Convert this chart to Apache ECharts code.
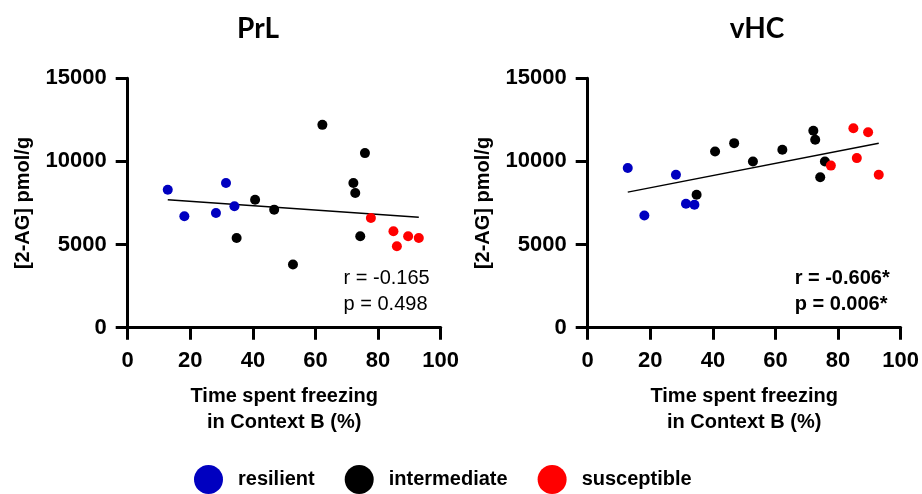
<!DOCTYPE html>
<html>
<head>
<meta charset="utf-8">
<script src="https://cdn.jsdelivr.net/npm/echarts@6/dist/echarts.min.js"></script>
<style>
html,body{margin:0;padding:0;background:#fff;}
#chart{width:922px;height:494px;}
</style>
</head>
<body>
<div id="chart"></div>
<script>
// ---- data ----
var panelTitles = ['PrL', 'vHC'];
var groupNames = ['resilient', 'intermediate', 'susceptible'];
var groupColors = ['#0000c0', '#000000', '#ff0000'];

var resilientX    = [12.8, 18.1, 28.2, 31.4, 34.1];
var intermediateX = [34.8, 40.7, 46.8, 52.8, 62.2, 72.1, 72.7, 75.8, 74.3];
var susceptibleX  = [77.7, 84.9, 86.0, 89.6, 93.0];

var prlResilient    = [8300, 6700, 6900, 8700, 7300];
var prlIntermediate = [5400, 7700, 7100, 3800, 12200, 8700, 8100, 10500, 5500];
var prlSusceptible  = [6600, 5800, 4900, 5500, 5400];

var vhcResilient    = [9600, 6750, 9200, 7450, 7400];
var vhcIntermediate = [8000, 10600, 11100, 10000, 10700, 11850, 11300, 10000, 9050];
var vhcSusceptible  = [9750, 12000, 10200, 11750, 9200];

var statsText = [['r = -0.165', 'p = 0.498'], ['r = -0.606*', 'p = 0.006*']];

var xTicks = [0, 20, 40, 60, 80, 100];
var yTicks = [0, 5000, 10000, 15000];
var xAxisName = 'Time spent freezing\nin Context B (%)';
var yAxisName = '[2-AG] pmol/g';

// ---- helpers ----
function pairs(xs, ys) { return xs.map(function (x, i) { return [x, ys[i]]; }); }
function fitLine(xs, ys) {
  var n = xs.length, mx = 0, my = 0;
  for (var i = 0; i < n; i++) { mx += xs[i]; my += ys[i]; }
  mx /= n; my /= n;
  var sxy = 0, sxx = 0;
  for (var j = 0; j < n; j++) { sxy += (xs[j] - mx) * (ys[j] - my); sxx += (xs[j] - mx) * (xs[j] - mx); }
  var b = sxy / sxx, a = my - b * mx;
  var x0 = Math.min.apply(null, xs), x1 = Math.max.apply(null, xs);
  return [[x0, a + b * x0], [x1, a + b * x1]];
}

var allX = resilientX.concat(intermediateX, susceptibleX);
var panels = [
  [prlResilient, prlIntermediate, prlSusceptible],
  [vhcResilient, vhcIntermediate, vhcSusceptible]
];

var gridLefts = [127.7, 587.7];
var titleCenters = [253, 752];
var gridW = 313, gridTop = 78.3, gridH = 249.4;
var FONT = '"Liberation Sans", Arial, sans-serif';

var grids = [], xAxes = [], yAxes = [], series = [], graphics = [], titles = [];
panels.forEach(function (groups, p) {
  grids.push({ left: gridLefts[p], top: gridTop, width: gridW, height: gridH, containLabel: false });
  var axisCommon = {
    axisLine: { show: true, onZero: false, lineStyle: { color: '#000', width: 3 } },
    axisTick: { show: true, length: 12, lineStyle: { color: '#000', width: 3 } },
    splitLine: { show: false }
  };
  var labelStyle = { color: '#000', fontFamily: FONT, fontWeight: 'bold', fontSize: 22,
    formatter: function (v) { return String(v); } };
  xAxes.push(Object.assign({}, axisCommon, {
    type: 'value', gridIndex: p, min: xTicks[0], max: xTicks[xTicks.length - 1], interval: xTicks[1] - xTicks[0],
    axisLabel: Object.assign({}, labelStyle, { margin: 22, showMaxLabel: true, showMinLabel: true }),
    name: xAxisName, nameLocation: 'middle', nameGap: 56,
    nameTextStyle: { color: '#000', fontFamily: FONT, fontWeight: 'bold', fontSize: 20, lineHeight: 26 }
  }));
  yAxes.push(Object.assign({}, axisCommon, {
    type: 'value', gridIndex: p, min: yTicks[0], max: yTicks[yTicks.length - 1], interval: yTicks[1] - yTicks[0],
    axisLabel: Object.assign({}, labelStyle, { margin: 21 }),
    name: yAxisName, nameLocation: 'middle', nameGap: 94,
    nameTextStyle: { color: '#000', fontFamily: FONT, fontWeight: 'bold', fontSize: 20 }
  }));
  var xsGroups = [resilientX, intermediateX, susceptibleX];
  groups.forEach(function (ys, g) {
    series.push({
      name: groupNames[g], type: 'scatter', xAxisIndex: p, yAxisIndex: p,
      symbol: 'circle', symbolSize: 10,
      itemStyle: { color: groupColors[g], opacity: 1 },
      data: pairs(xsGroups[g], ys), z: 3
    });
  });
  var allY = groups[0].concat(groups[1], groups[2]);
  series.push({
    type: 'line', xAxisIndex: p, yAxisIndex: p, data: fitLine(allX, allY),
    symbol: 'none', lineStyle: { color: '#000', width: 1.5 }, silent: true, z: 2
  });
  titles.push({
    text: panelTitles[p], left: titleCenters[p], top: 10,
    textAlign: 'center',
    textStyle: { fontFamily: 'Lato, sans-serif', fontWeight: 'bold', fontSize: 28, color: '#000' }
  });
  graphics.push({
    type: 'text', right: 922 - (gridLefts[p] + gridW - 11), top: 265,
    style: {
      text: statsText[p].join('\n'), align: 'right', fill: '#000',
      font: (p === 1 ? 'bold ' : '') + '20px "Liberation Sans", Arial, sans-serif',
      lineHeight: 26
    }
  });
});

var chart = echarts.init(document.getElementById('chart'), null, { renderer: 'canvas' });
chart.setOption({
  backgroundColor: '#fff',
  animation: false,
  title: titles,
  grid: grids,
  xAxis: xAxes,
  yAxis: yAxes,
  legend: {
    data: groupNames, left: 189, top: 460,
    icon: 'circle', itemWidth: 29, itemHeight: 29, itemGap: 30,
    itemStyle: { opacity: 1 },
    textStyle: { color: '#000', fontFamily: FONT, fontWeight: 'bold', fontSize: 20, padding: [0, 0, 0, 10] }
  },
  graphic: graphics,
  series: series
});
</script>
</body>
</html>
